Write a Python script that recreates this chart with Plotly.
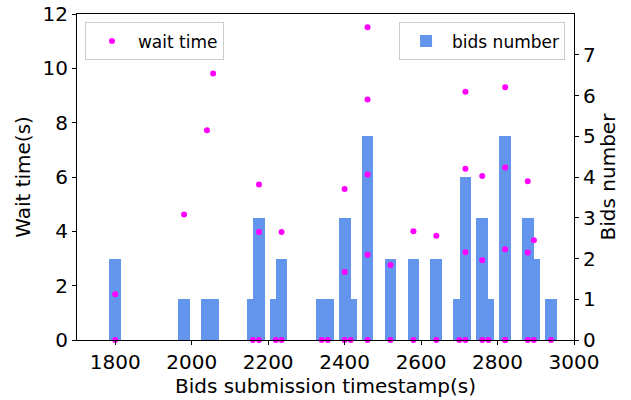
import plotly.graph_objects as go

# Bids per submission timestamp
bid_times = [1800, 1980, 2040, 2056, 2160, 2176, 2220, 2235, 2340, 2356, 2400, 2416,
             2460, 2520, 2580, 2640, 2700, 2716, 2760, 2776, 2820, 2879, 2895, 2940]
bid_counts = [2, 1, 1, 1, 1, 3, 1, 2, 1, 1, 3, 1,
              5, 2, 2, 2, 1, 4, 3, 1, 5, 3, 2, 1]

# Wait time of each bid
wait_x = [1800, 1800, 1980, 2040, 2056, 2160, 2176, 2176, 2176, 2220, 2235, 2235,
          2340, 2356, 2400, 2400, 2400, 2416, 2460, 2460, 2460, 2460, 2460,
          2520, 2520, 2580, 2580, 2640, 2640, 2700, 2716, 2716, 2716, 2716,
          2760, 2760, 2760, 2776, 2820, 2820, 2820, 2820, 2820,
          2879, 2879, 2879, 2895, 2895, 2940]
wait_y = [0, 1.68, 4.62, 7.72, 9.81, 0, 5.72, 3.98, 0, 0, 3.98, 0,
          0, 0, 5.56, 2.50, 0, 0, 11.51, 8.85, 6.09, 3.14, 0,
          2.76, 0, 4.0, 0, 3.84, 0, 0, 9.14, 6.30, 3.23, 0,
          6.04, 2.94, 0, 0, 9.30, 6.35, 3.34, 0, 0,
          5.84, 3.22, 0, 3.67, 0, 0]

x_ticks = [1800, 2000, 2200, 2400, 2600, 2800, 3000]
left_ticks = [0, 2, 4, 6, 8, 10, 12]
right_ticks = [0, 1, 2, 3, 4, 5, 6, 7]

FONT = "DejaVu Sans"
FS = 20

fig = go.Figure()
fig.add_trace(go.Bar(
    x=bid_times, y=bid_counts, width=31, name="bids number",
    marker=dict(color="#6495ED", line=dict(width=0)),
    yaxis="y", legend="legend2", showlegend=True,
))
fig.add_trace(go.Scatter(
    x=wait_x, y=wait_y, mode="markers", name="wait time",
    marker=dict(color="#FF00FF", size=6),
    yaxis="y2", legend="legend", showlegend=True, cliponaxis=False,
))

axis_common = dict(
    showgrid=False, zeroline=False, showline=True, linecolor="black", linewidth=1,
    ticks="outside", ticklen=4, tickwidth=1, tickcolor="black", automargin=False,
    tickfont=dict(family=FONT, size=FS, color="black"),
)

legend_common = dict(
    yanchor="top", visible=True, itemwidth=42,
    bordercolor="#cccccc", borderwidth=1, bgcolor="rgba(255,255,255,0.8)",
    font=dict(family=FONT, size=17, color="black"),
)

fig.update_layout(
    width=631, height=400,
    margin=dict(l=77, r=57, t=14, b=60),
    paper_bgcolor="white", plot_bgcolor="white",
    barmode="overlay", bargap=0, showlegend=True,
    font=dict(family=FONT, color="black"),
    xaxis=dict(
        range=[1700, 3000], tickvals=x_ticks, mirror=True,
        title=dict(text="Bids submission timestamp(s)", font=dict(family=FONT, size=FS), standoff=2),
        **axis_common,
    ),
    yaxis=dict(
        range=[0, 8], tickvals=right_ticks, side="right",
        title=dict(text="Bids number", font=dict(family=FONT, size=FS), standoff=6),
        **axis_common,
    ),
    yaxis2=dict(
        range=[0, 12], tickvals=left_ticks, side="left", overlaying="y",
        title=dict(text="Wait time(s)", font=dict(family=FONT, size=FS), standoff=6),
        **axis_common,
    ),
    legend=dict(x=0.016, y=0.974, xanchor="left", **legend_common),
    legend2=dict(x=0.982, y=0.974, xanchor="right", **legend_common),
)

fig.write_html("out.html")
